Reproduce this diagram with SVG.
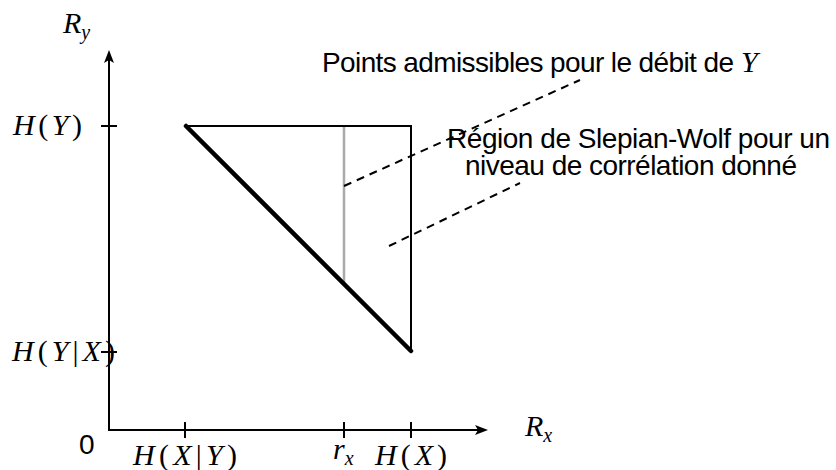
<svg xmlns="http://www.w3.org/2000/svg" width="836" height="470" viewBox="0 0 836 470">
<style>
.ax{stroke:#000;stroke-width:2;fill:none}
.thin{stroke:#000;stroke-width:2;fill:none;stroke-linecap:square}
.thick{stroke:#000;stroke-width:4.5;fill:none;stroke-linecap:round}
.gray{stroke:#aaaaaa;stroke-width:2.5;fill:none}
.dash{stroke:#000;stroke-width:2;stroke-dasharray:8,6;fill:none}
.sans{font-family:"Liberation Sans",Arial,sans-serif;font-size:28px;fill:#000}
.math{font-family:"Liberation Serif","Times New Roman",serif;font-size:30px;fill:#000}
.it{font-style:italic}
.sub{font-size:20px;font-style:italic}
</style>
<rect width="836" height="470" fill="#fff"/>
<g id="axes">
<line class="ax" x1="109" y1="431" x2="109" y2="60"/>
<polygon points="109,50 104,63 109,60 114,63" fill="#000"/>
<line class="ax" x1="108" y1="430" x2="478" y2="430"/>
<polygon points="488,430 475,425 478,430 475,435" fill="#000"/>
<line class="ax" x1="101" y1="126" x2="117" y2="126"/>
<line class="ax" x1="101" y1="352" x2="117" y2="352"/>
<line class="ax" x1="185" y1="422" x2="185" y2="438"/>
<line class="ax" x1="344" y1="422" x2="344" y2="438"/>
<line class="ax" x1="411" y1="422" x2="411" y2="438"/>
</g>
<g id="region">
<line class="gray" x1="344" y1="126" x2="344" y2="284"/>
<polyline class="thin" points="186,126 411,126 411,351"/>
<line class="thick" x1="186" y1="126" x2="411" y2="351"/>
</g>
<g id="connectors">
<line class="dash" x1="344" y1="186" x2="580" y2="80"/>
<line class="dash" x1="389" y1="246" x2="520" y2="183"/>
</g>
<g id="labels">
<text class="math" x="63" y="33"><tspan class="it">R</tspan><tspan class="sub" dy="6">y</tspan></text>
<text class="math" x="525" y="436"><tspan class="it">R</tspan><tspan class="sub" dy="6">x</tspan></text>
<text class="math" x="13" y="135" textLength="69" lengthAdjust="spacing"><tspan class="it">H</tspan>(<tspan class="it">Y</tspan>)</text>
<text class="math" x="12" y="361" textLength="103" lengthAdjust="spacing"><tspan class="it">H</tspan>(<tspan class="it">Y</tspan>|<tspan class="it">X</tspan>)</text>
<text class="sans" x="79" y="454">0</text>
<text class="math" x="133" y="465" textLength="104" lengthAdjust="spacing"><tspan class="it">H</tspan>(<tspan class="it">X</tspan>|<tspan class="it">Y</tspan>)</text>
<text class="math" x="333" y="459"><tspan class="it">r</tspan><tspan class="sub" dy="6">x</tspan></text>
<text class="math" x="375" y="465" textLength="72" lengthAdjust="spacing"><tspan class="it">H</tspan>(<tspan class="it">X</tspan>)</text>
</g>
<g id="annotation-points">
<text class="sans" x="322" y="72" textLength="412" lengthAdjust="spacing">Points admissibles pour le débit de</text>
<text class="math it" x="741" y="72">Y</text>
</g>
<g id="annotation-region">
<text class="sans" x="447" y="148" textLength="383" lengthAdjust="spacing">Région de Slepian-Wolf pour un</text>
<text class="sans" x="465" y="175" textLength="332" lengthAdjust="spacing">niveau de corrélation donné</text>
</g>
</svg>
